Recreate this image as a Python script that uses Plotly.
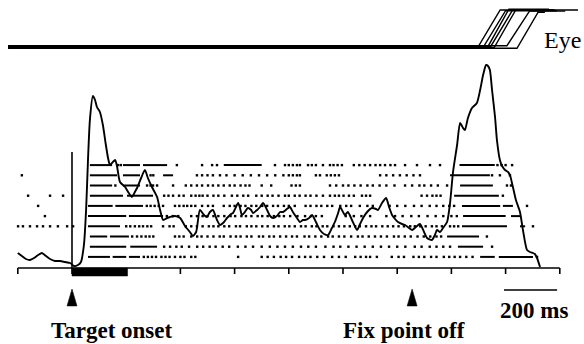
import plotly.graph_objects as go

# ---------------- data (time in ms relative to target onset) ----------------
tick_times = [-200, 0, 200, 400, 600, 800, 1000, 1200, 1400, 1600, 1800]
target_on, target_off = 0, 205
fix_off = 1258
scale_bar_ms = [1594, 1790]
scale_label = "200 ms"

# spike density (spikes/s)
hist_t = [-200, -185, -170, -155, -140, -125, -111, -96, -81, -63, -44, -26, -7, 7, 22, 33, 44, 52,
          59, 66, 77, 85, 92, 103, 114, 125, 133, 140, 151, 159, 166, 177, 196, 207, 221, 232, 240,
          255, 269, 280, 295, 314, 325, 336, 351, 362, 380, 399, 417, 435, 446, 458, 472, 487, 498,
          509, 520, 535, 546, 561, 572, 587, 594, 605, 613, 620, 627, 638, 649, 661, 668, 683, 694,
          705, 720, 731, 742, 756, 768, 779, 793, 804, 815, 830, 841, 852, 860, 875, 886, 900, 915,
          930, 945, 959, 970, 982, 989, 1000, 1007, 1018, 1033, 1052, 1063, 1074, 1089, 1107, 1122,
          1129, 1144, 1159, 1170, 1181, 1192, 1203, 1218, 1229, 1244, 1255, 1269, 1284, 1299, 1310,
          1328, 1339, 1347, 1358, 1369, 1384, 1395, 1406, 1421, 1432, 1443, 1450, 1461, 1476, 1494,
          1506, 1517, 1528, 1535, 1542, 1550, 1561, 1568, 1579, 1587, 1598, 1609, 1616, 1627, 1638,
          1653, 1664, 1679, 1690, 1701, 1708, 1716, 1727]
hist_rate = [15, 12, 9, 8, 10, 13, 15, 12, 9, 7, 7, 6, 5, 2, 3, 6, 23, 58,
             108, 148, 172, 168, 161, 156, 143, 123, 110, 103, 106, 108, 102, 86, 81, 76, 71, 76, 80,
             90, 98, 90, 81, 71, 58, 48, 50, 51, 52, 50, 42, 36, 32, 36, 58, 53, 51,
             56, 58, 48, 43, 46, 50, 54, 55, 61, 65, 60, 53, 56, 60, 58, 55, 58, 61,
             65, 58, 52, 50, 52, 56, 56, 59, 61, 56, 50, 46, 48, 48, 50, 53, 46, 38,
             34, 33, 40, 46, 55, 61, 56, 53, 56, 48, 38, 44, 50, 56, 60, 59,
             58, 65, 70, 61, 53, 49, 46, 44, 43, 40, 38, 41, 44, 36, 30,
             28, 33, 38, 36, 40, 46, 65, 96, 123, 145, 140, 138, 150, 160, 165,
             178, 193, 203, 202, 198, 178, 151, 128, 108, 102, 98, 96, 93, 81, 68,
             56, 38, 18, 16, 15, 14, 10, 1]

# raster: per trial (bottom row first) dense burst intervals and single spikes
trial_bursts = [
    [[59, 140], [150, 200], [210, 251], [1506, 1560], [1575, 1701]],
    [[66, 200], [215, 314], [1424, 1517]],
    [[66, 130], [140, 210], [1384, 1502]],
    [[59, 177], [1439, 1605], [1653, 1672]],
    [[59, 200], [210, 336], [1443, 1600], [1620, 1653]],
    [[59, 150], [160, 262], [1439, 1580], [1590, 1627]],
    [[66, 188], [203, 299], [1410, 1575]],
    [[66, 148], [188, 251], [1432, 1553]],
    [[66, 166], [188, 251], [336, 373], [1395, 1542]],
    [[66, 148], [188, 251], [262, 351], [560, 700], [1430, 1560]],
]
trial_spikes = [
    [265, 280, 295, 310, 330, 345, 360, 380, 400, 415, 440, 455, 613, 700, 722, 745, 770, 790, 812,
     838, 860, 880, 905, 930, 960, 985, 1010, 1045, 1065, 1085, 1100, 1125, 1180, 1205, 1225, 1260,
     1280, 1300, 1325, 1345, 1372, 1392, 1412, 1432, 1455, 1478, 1716],
    [340, 362, 385, 405, 432, 462, 484, 508, 530, 556, 580, 612, 640, 668, 700, 730, 758, 786, 815,
     845, 872, 900, 935, 965, 990, 1020, 1050, 1080, 1110, 1140, 1170, 1200, 1230, 1265, 1290, 1320,
     1345, 1370, 1395, 1550],
    [222, 240, 256, 272, 286, 300, 380, 396, 412, 440, 462, 478, 500, 522, 545, 560, 585, 605, 622,
     645, 662, 690, 705, 728, 745, 768, 790, 812, 830, 858, 875, 898, 920, 945, 962, 985, 1005, 1030,
     1055, 1072, 1095, 1118, 1140, 1162, 1188, 1205, 1228, 1250, 1275, 1298, 1322, 1345, 1362, 1531],
    [-199, -181, -155, -129, -107, -81, -52, -18, 4, 200, 215, 232, 248, 262, 278, 292, 336, 360, 375,
     420, 440, 461, 482, 505, 522, 540, 562, 580, 605, 620, 645, 662, 680, 702, 722, 745, 762, 785,
     802, 822, 845, 862, 885, 902, 925, 942, 965, 985, 1005, 1025, 1045, 1062, 1085, 1105, 1122, 1145,
     1165, 1185, 1205, 1225, 1248, 1265, 1285, 1305, 1328, 1345, 1365, 1395, 1410, 1425, 1701],
    [-100, 350, 372, 392, 440, 461, 482, 500, 522, 540, 562, 585, 602, 625, 642, 662, 685, 702, 722,
     745, 765, 782, 805, 832, 860, 882, 900, 922, 1010, 1040, 1068, 1100, 1160, 1192, 1220, 1252,
     1280, 1312, 1342, 1370, 1400, 1420],
    [-125, 276, 290, 305, 320, 336, 380, 396, 412, 425, 440, 455, 480, 502, 520, 560, 582, 600, 622,
     640, 662, 680, 702, 720, 742, 760, 782, 800, 822, 862, 880, 902, 920, 942, 960, 990, 1012, 1030,
     1062, 1090, 1110, 1172, 1200, 1230, 1262, 1290, 1320, 1345, 1370, 1392, 1410, 1679],
    [-162, -81, -33, 340, 356, 373, 395, 412, 440, 456, 470, 482, 500, 522, 540, 562, 590, 610, 632,
     650, 680, 700, 722, 740, 762, 786, 800, 822, 840, 862, 880, 902, 926, 952, 970, 985, 1002, 1022,
     1040, 1070, 1085, 1100, 1290, 1310, 1330, 1345, 1360, 1590],
    [160, 277, 290, 299, 314, 373, 420, 440, 461, 480, 502, 520, 540, 560, 582, 600, 622, 640, 655,
     700, 735, 810, 826, 841, 952, 975, 1000, 1020, 1042, 1065, 1090, 1110, 1135, 1160, 1190, 1229,
     1255, 1282, 1300, 1325, 1350, 1384, 1605, 1620],
    [-185, 290, 300, 461, 480, 500, 520, 546, 570, 600, 630, 660, 690, 720, 750, 780, 800, 815, 830,
     841, 900, 915, 940, 955, 970, 985, 1137, 1160, 1185, 1210, 1235, 1260, 1284, 1550, 1579, 1616],
    [170, 180, 387, 480, 517, 535, 749, 786, 800, 815, 830, 841, 871, 885, 900, 926, 952, 965, 980,
     996, 1040, 1060, 1080, 1100, 1120, 1137, 1155, 1175, 1192, 1229, 1273, 1321, 1358, 1570, 1585,
     1600, 1624],
]

# eye position traces (deg)
eye_start = [-236, -236, -236, -236, -236, -236, -236]
eye_sac_on = [1498, 1520, 1532, 1545, 1558, 1605, 1642]
eye_sac_off = [1580, 1600, 1612, 1625, 1638, 1688, 1720]
eye_end = [1867, 1790, 1760, 1740, 1780, 1820, 1745]
eye_pre = [0.0, 0.5, -0.5, 0.3, -0.3, 0.7, -0.7]
eye_post = [20.0, 19.6, 20.4, 19.8, 20.2, 19.4, 18.8]

# ---------------- figure ----------------
W, H = 584, 344
MS_PER_PX = 3.69
ink = "black"
clear = "rgba(0,0,0,0)"
fig = go.Figure()

# eye traces
for s, on, off, e, pre, post in zip(eye_start, eye_sac_on, eye_sac_off, eye_end, eye_pre, eye_post):
    fig.add_trace(go.Scatter(x=[s, on, off, e], y=[pre, pre, post, post], mode="lines",
                             line=dict(color=ink, width=1.4), yaxis="y3", hoverinfo="skip"))

# raster
for i, (bursts, spikes) in enumerate(zip(trial_bursts, trial_spikes)):
    row = i + 1
    bx, by = [], []
    for a, b in bursts:
        bx += [a, b, None]
        by += [row, row, None]
    fig.add_trace(go.Scatter(x=bx, y=by, mode="lines", line=dict(color=ink, width=2),
                             yaxis="y2", hoverinfo="skip"))
    fig.add_trace(go.Scatter(x=spikes, y=[row] * len(spikes), mode="markers",
                             marker=dict(symbol="square", size=2.4, color=ink, line=dict(width=0)),
                             yaxis="y2", hoverinfo="skip"))

# spike density curve
fig.add_trace(go.Scatter(x=hist_t, y=hist_rate, mode="lines",
                         line=dict(color=ink, width=1.9, shape="spline", smoothing=0.6),
                         hoverinfo="skip"))

# target onset vertical marker
fig.add_trace(go.Scatter(x=[target_on, target_on], y=[0, 116], mode="lines",
                         line=dict(color=ink, width=1.6), hoverinfo="skip"))

# time axis baseline and ticks
tx, ty = [tick_times[0], tick_times[-1], None], [0, 0, None]
for t in tick_times:
    tx += [t, t, None]
    ty += [0, -6, None]
fig.add_trace(go.Scatter(x=tx, y=ty, mode="lines", line=dict(color=ink, width=1.6),
                         hoverinfo="skip"))

# target presentation bar
fig.add_trace(go.Scatter(x=[target_on, target_off, target_off, target_on, target_on],
                         y=[0, 0, -8, -8, 0], mode="lines", fill="toself", fillcolor=ink,
                         line=dict(color=ink, width=0.5), hoverinfo="skip"))

# event arrowheads
half_w = 5 * MS_PER_PX
for ev in [target_on, fix_off - 3]:
    fig.add_trace(go.Scatter(x=[ev - half_w, ev + half_w, ev, ev - half_w],
                             y=[-38, -38, -21, -38], mode="lines", fill="toself",
                             fillcolor=ink, line=dict(color=ink, width=0.5), hoverinfo="skip"))

# scale bar
fig.add_trace(go.Scatter(x=scale_bar_ms, y=[-22, -22], mode="lines",
                         line=dict(color=ink, width=1.4), hoverinfo="skip"))

bold = dict(family="Liberation Serif", size=23, color=ink)
annotations = [
    dict(x=148, y=-62, text="<b>Target onset</b>", xref="x", yref="y", showarrow=False,
         font=bold, xanchor="center", yanchor="middle"),
    dict(x=1225, y=-62, text="<b>Fix point off</b>", xref="x", yref="y", showarrow=False,
         font=bold, xanchor="center", yanchor="middle"),
    dict(x=sum(scale_bar_ms) / 2 + 14, y=-42, text="<b>" + scale_label + "</b>", xref="x", yref="y",
         showarrow=False, font=bold, xanchor="center", yanchor="middle"),
    dict(x=1735, y=3.8, text="Eye", xref="x", yref="y3", showarrow=False,
         font=dict(family="Liberation Serif", size=24, color=ink), xanchor="left", yanchor="middle"),
]

fig.update_layout(
    width=W, height=H, autosize=False,
    margin=dict(l=0, r=0, t=0, b=0, pad=0),
    paper_bgcolor="white", plot_bgcolor=clear,
    showlegend=False,
    xaxis=dict(range=[-72 * MS_PER_PX, (W - 72) * MS_PER_PX], visible=False, fixedrange=True),
    yaxis=dict(range=[-76, 268], domain=[0, 1], visible=False, fixedrange=True),
    yaxis2=dict(range=[0.5, 10.5], domain=[(H - 262) / H, (H - 160) / H], anchor="x",
                visible=False, fixedrange=True),
    yaxis3=dict(range=[-2.7, 22.7], domain=[(H - 52) / H, (H - 5) / H], anchor="x",
                visible=False, fixedrange=True),
    annotations=annotations,
)

fig.write_html("out.html", config={"displayModeBar": False},
               post_script="document.body.style.margin='0';document.body.style.overflow='hidden';")
